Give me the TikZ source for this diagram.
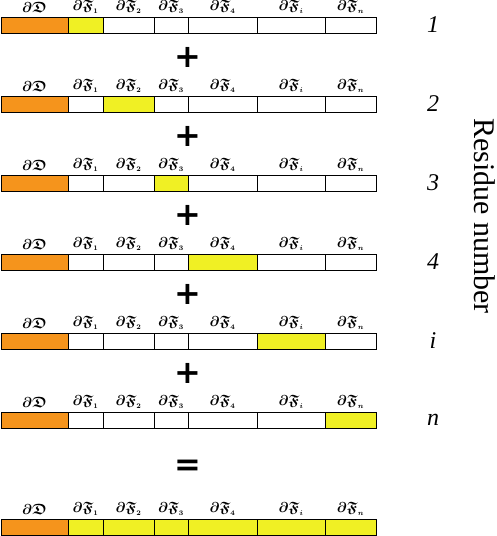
\documentclass[tikz,border=0pt]{standalone}
\usepackage{amssymb}
\usepackage{bm}
\usepackage{fontspec}
\setmainfont{Liberation Serif}
\newfontfamily\opfont{DejaVu Sans}
\definecolor{boxorange}{RGB}{245,148,28}
\definecolor{boxyellow}{RGB}{240,240,36}
\tikzset{
  cell/.style={draw=black, line width=1pt, inner sep=0pt, minimum height=16pt, anchor=center},
  lab/.style={inner sep=0pt, font=\fontsize{15}{17}\selectfont},
  num/.style={inner sep=0pt, font=\fontsize{24}{26}\selectfont\itshape},
  op/.style={inner sep=0pt, font=\fontsize{32}{36}\selectfont\opfont\bfseries},
  axis/.style={inner sep=0pt, font=\fontsize{30}{34}\selectfont, rotate=-90}
}
\begin{document}
\begin{tikzpicture}[x=1pt,y=-1pt]
\useasboundingbox (0,0) rectangle (497,536);
\foreach \r/\top/\hl/\nm in {1/17/1/1, 2/96/2/2, 3/175/3/3, 4/254/4/4, 5/333/5/i, 6/412/6/n, 7/519/9/{}}{
  \foreach \c/\a/\b/\lab in {0/1/68/{\bm{\partial\mathfrak{D}}}, 1/68/103/{\bm{\partial\mathfrak{F}}_{\scriptscriptstyle\bm{1}}}, 2/103/154/{\bm{\partial\mathfrak{F}}_{\scriptscriptstyle\bm{2}}}, 3/154/188/{\bm{\partial\mathfrak{F}}_{\scriptscriptstyle\bm{3}}}, 4/188/257/{\bm{\partial\mathfrak{F}}_{\scriptscriptstyle\bm{4}}}, 5/257/325/{\bm{\partial\mathfrak{F}}_{\scriptscriptstyle\bm{i}}}, 6/325/376/{\bm{\partial\mathfrak{F}}_{\scriptscriptstyle\bm{n}}}}{
    \ifnum\c=0 \def\fc{boxorange}\else
      \ifnum\r=7 \def\fc{boxyellow}\else
        \ifnum\c=\hl \def\fc{boxyellow}\else \def\fc{white}\fi
      \fi
    \fi
    \pgfmathsetmacro\w{\b-\a}
    \node[cell, fill=\fc, minimum width=\w pt] (b\r-\c) at ({(\a+\b)/2}, \top+8) {};
    \node[lab] (l\r-\c) at ({(\a+\b)/2}, \top-10) {$\lab$};
  }
  \ifnum\r<7
    \node[num] (n\r) at (433, \top+8) {\nm};
  \fi
}
\foreach \i/\y in {1/57, 2/136, 3/215, 4/294, 5/373}{
  \node[op] (p\i) at (188, \y) {+};
}
\node[op] (eq) at (188, 468) {=};
\node[axis] (res) at (485, 216) {Residue number};
\end{tikzpicture}
\end{document}
